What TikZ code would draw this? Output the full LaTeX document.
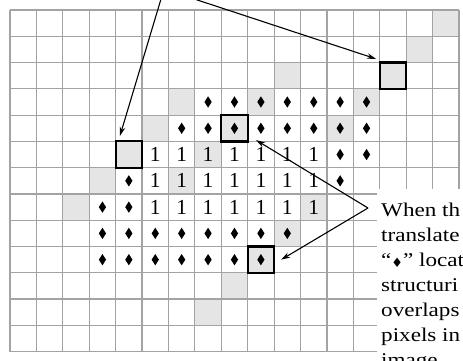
\documentclass[tikz,border=0pt]{standalone}
\usepackage{fontspec}
\setmainfont{Liberation Serif}
\newfontfamily\notefont[FakeStretch=1.19]{Liberation Serif}
\newfontfamily\symfont{DejaVu Sans}
\usetikzlibrary{arrows.meta,calc,shapes.geometric}
\tikzset{
  gridline/.style={draw=black!36, line width=1.2bp},
  graycell/.style={fill=black!10},
  selbox/.style={draw=black, line width=2.2bp, fill=black!10, minimum width=26.4bp, minimum height=26.3bp, inner sep=0pt},
  diam/.style={diamond, fill=black, draw=none, inner sep=0pt, minimum width=7.4bp, minimum height=11.5bp},
  one/.style={font=\fontsize{21.5}{21.5}\selectfont, inner sep=0pt},
  pointer/.style={line width=1.1bp, -{Stealth[length=9bp,width=5.5bp]}},
  note/.style={font=\notefont\fontsize{19.5}{25.1}\selectfont, align=left, inner sep=0pt, anchor=base west},
}
\begin{document}
\begin{tikzpicture}[x=1bp,y=-1bp]
\useasboundingbox (0,0) rectangle (463,360);
\clip (0,0) rectangle (463,360);
\fill[white] (0,0) rectangle (463,360);
\begin{scope}[shift={(10,10)}, x=26.41bp, y=-26.28bp]
  % gray cells
  \foreach \c/\r in {16/0, 15/1, 10/2, 6/3, 9/3, 13/3, 5/4, 12/4, 7/5, 3/6, 6/6, 2/7, 11/7, 10/8, 8/10, 7/11}
    \fill[graycell] (\c,\r) rectangle +(1,1);
  % grid
  \foreach \i in {0,...,17} \draw[gridline] (\i,0) -- (\i,13);
  \foreach \j in {0,...,13} \draw[gridline] (0,\j) -- (17,\j);
  % highlighted boxes
  \node[selbox] (boxTR) at (14.5,2.5) {};
  \node[selbox] (boxM)  at (8.5,4.5) {};
  \node[selbox] (boxL)  at (4.5,5.5) {};
  \node[selbox] (boxB)  at (9.5,9.5) {};
  % diamonds
  \foreach \c in {7,...,13} \node[diam] (d-3-\c) at (\c+.5,3.5) {};
  \foreach \c in {6,...,13} \node[diam] (d-4-\c) at (\c+.5,4.5) {};
  \foreach \c in {12,13} \node[diam] (d-5-\c) at (\c+.5,5.5) {};
  \foreach \c in {4,12} \node[diam] (d-6-\c) at (\c+.5,6.5) {};
  \foreach \c in {3,4} \node[diam] (d-7-\c) at (\c+.5,7.5) {};
  \foreach \c in {3,...,10} \node[diam] (d-8-\c) at (\c+.5,8.5) {};
  \foreach \c in {3,...,9} \node[diam] (d-9-\c) at (\c+.5,9.5) {};
  % ones
  \foreach \r in {5,6,7}
    \foreach \c in {5,...,11}
      \node[one] (o-\r-\c) at (\c+.5,\r+.5) {1};
\end{scope}
% text with white backing
\fill[white] (377,189) rectangle (463,360);
\node[note] (txt) at (381,366.6) {When th\\translate\\“\raisebox{-1bp}{\symfont\fontsize{13}{13}\selectfont ♦}” locat\\structuri\\overlaps\\pixels in\\image};
% arrows
\coordinate (src1) at (164,-11);
\coordinate (src2) at (368,208);
\draw[pointer] (src1) -- ($(boxL.north west)+(5.4,-4.4)$);
\draw[pointer] (src1) -- ($(boxTR.north west)+(-2.7,-2.6)$);
\draw[pointer] (src2) -- ($(boxM.south east)+(7.3,-2.4)$);
\draw[pointer] (src2) -- ($(boxB.east)+(6,0)$);
\end{tikzpicture}
\end{document}
